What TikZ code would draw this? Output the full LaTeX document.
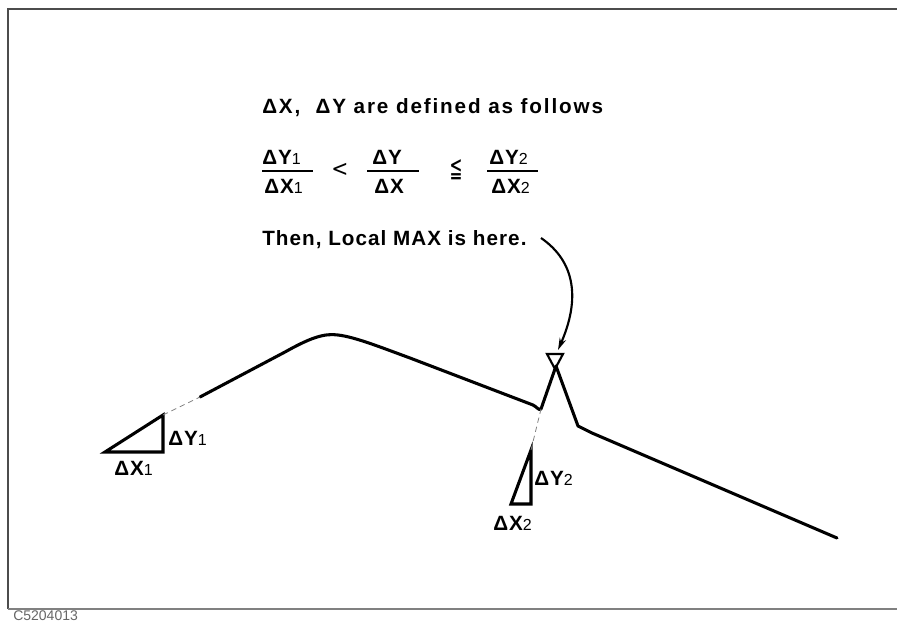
\documentclass[tikz,border=0pt]{standalone}
\usepackage{fontspec}
\setmainfont{Liberation Sans}[LetterSpace=5]
\newfontfamily\symfont{DejaVu Sans}
\usetikzlibrary{arrows.meta}
\newcommand\sbs[1]{{\mdseries\fontsize{12pt}{13pt}\selectfont #1}}
\tikzset{
  lbl/.style={inner sep=0pt, font=\fontsize{15.5pt}{18pt}\selectfont\bfseries},
  thick curve/.style={line width=2.3pt, line join=round, line cap=round},
  helper/.style={line width=0.6pt, gray, dash pattern=on 4pt off 3pt},
  frame/.style={line width=0.9pt, black!70},
  fracbar/.style={line width=2pt}
}
\begin{document}
\begin{tikzpicture}[x=0.75pt,y=-0.75pt]
\useasboundingbox (0,0) rectangle (897,621);
% frame
\draw[frame] (897,9) -- (8,9) -- (8,609);
\draw[frame, black!50] (8,609) -- (897,609);
\node[anchor=base west, inner sep=0pt, text=black!60, font=\fontsize{10.5pt}{12pt}\selectfont\addfontfeature{LetterSpace=0}] (code) at (13,620) {C5204013};

% heading
\node[lbl, anchor=base west] (head) at (262,113) {\addfontfeature{LetterSpace=9}ΔX,\ \ ΔY are defined as follows};

% fractions
\node[lbl, anchor=base west] (n1) at (262,164) {ΔY\sbs{1}};
\node[lbl, anchor=base west] (d1) at (264,193) {ΔX\sbs{1}};
\draw[fracbar] (262,171) coordinate (b1a) -- (313,171) coordinate (b1b);
\node[inner sep=0pt, anchor=center, xscale=0.9, font=\symfont\fontsize{17pt}{19pt}\selectfont] (lt) at (340,170) {<};
\node[lbl, anchor=base west] (n2) at (372,164) {ΔY};
\node[lbl, anchor=base west] (d2) at (374,193) {ΔX};
\draw[fracbar] (367,171) coordinate (b2a) -- (419,171) coordinate (b2b);
\node[inner sep=0pt, anchor=center, xscale=0.55, font=\symfont\fontsize{21pt}{23pt}\selectfont] (le) at (456,170) {≦};
\node[lbl, anchor=base west] (n3) at (489,164) {ΔY\sbs{2}};
\node[lbl, anchor=base west] (d3) at (491,193) {ΔX\sbs{2}};
\draw[fracbar] (487,171) coordinate (b3a) -- (538,171) coordinate (b3b);

% local max text
\node[lbl, anchor=base west] (then) at (262,245) {Then, Local MAX is here.};
\coordinate (arrstart) at (541,238);
\coordinate (arrtip) at (558,350);
\draw[line width=1.6pt, -{Stealth[length=9pt,width=5pt]}] (arrstart) .. controls (576,262) and (580,300) .. (arrtip);

% marker
\coordinate (m1) at (547,354);
\coordinate (m2) at (563,354);
\coordinate (m3) at (555,369);
\draw[line width=1.6pt, line join=miter] (m1) -- (m2) -- (m3) -- cycle;

% main curve
\coordinate (c0) at (200,397);
\coordinate (kink) at (541,409);
\coordinate (peak) at (556,366);
\coordinate (c9) at (837,538);
\draw[thick curve] (c0) -- (285,352) .. controls (310,338) and (324,333) .. (338,335)
  .. controls (355,337) and (380,347) .. (410,358) -- (533,405)
  .. controls (537,407) and (539,411) .. (kink) -- (peak) -- (578,426) -- (592,433) -- (c9);

% triangle 1
\coordinate (t1a) at (105,452);
\coordinate (t1b) at (163,452);
\coordinate (t1c) at (163,415);
\draw[line width=2.3pt, line join=miter] (t1a) -- (t1b) -- (t1c) -- cycle;
\draw[helper] (t1c) -- (c0);
\node[lbl, anchor=base west] (dy1) at (168,445) {ΔY\sbs{1}};
\node[lbl, anchor=base west] (dx1) at (114,475) {ΔX\sbs{1}};

% triangle 2
\coordinate (t2a) at (531,450);
\coordinate (t2b) at (531,504);
\coordinate (t2c) at (511,504);
\draw[line width=2.3pt, line join=miter] (t2a) -- (t2b) -- (t2c) -- cycle;
\draw[helper] (t2a) -- (kink);
\node[lbl, anchor=base west] (dy2) at (534,485) {ΔY\sbs{2}};
\node[lbl, anchor=base west] (dx2) at (493,530) {ΔX\sbs{2}};
\end{tikzpicture}
\end{document}
